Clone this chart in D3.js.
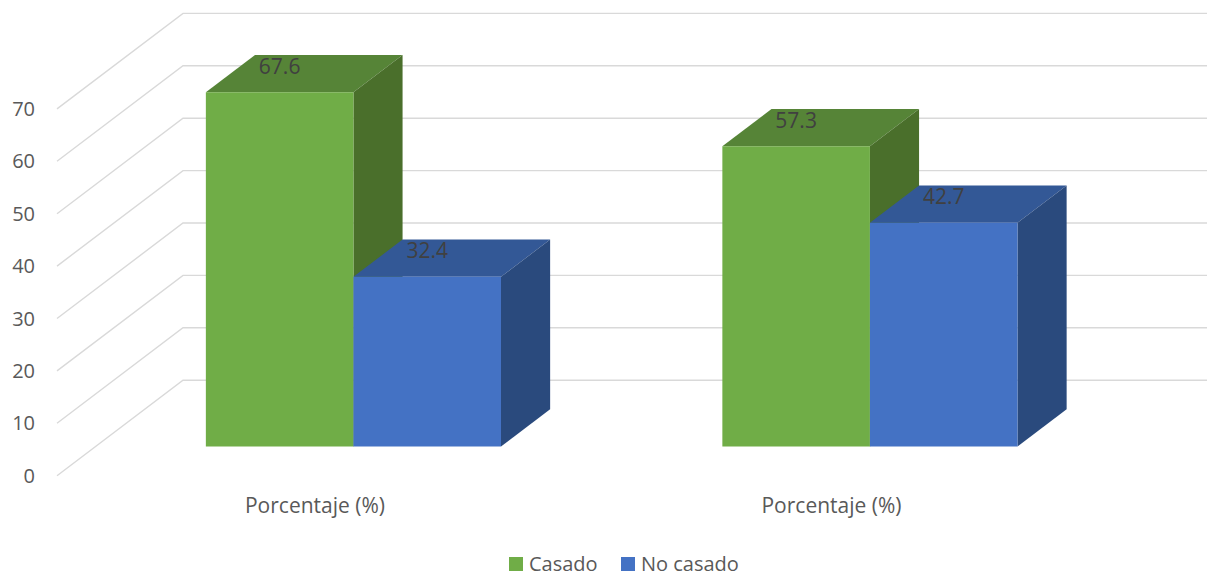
<!DOCTYPE html>
<html>
<head>
<meta charset="utf-8">
<script src="https://cdn.jsdelivr.net/npm/d3@7"></script>
<style>
  html, body { margin: 0; padding: 0; background: #fff; }
  svg { display: block; }
  text { font-family: "Open Sans", "Liberation Sans", sans-serif; }
</style>
</head>
<body>
<svg id="chart" width="1207" height="575"></svg>
<script>
// Data
const categories = ["Porcentaje (%)", "Porcentaje (%)"];
const seriesNames = ["Casado", "No casado"];
const casado = [67.6, 57.3];
const noCasado = [32.4, 42.7];
const yTicks = [0, 10, 20, 30, 40, 50, 60, 70];

const seriesValues = [casado, noCasado];
const seriesColors = [
  { front: "#70ad47", top: "#568437", side: "#4a6f2b" },
  { front: "#4472c4", top: "#335896", side: "#2a4a7d" }
];

const W = 1207, H = 575;
const svg = d3.select("#chart");

// Oblique projection: depth f in [0,1] shifts points right and up
const DX = 126, DY = 95.5;
const depthFront = 0.305, depthBack = 0.695;

const y = d3.scaleLinear().domain([0, 70]).range([475.7, 108.9]);

const x0 = d3.scaleBand()
  .domain(d3.range(categories.length))
  .range([56.75, 1089.75])
  .paddingInner(1.5 / 3.5)
  .paddingOuter(0.75 / 3.5);

const x1 = d3.scaleBand()
  .domain(d3.range(seriesNames.length))
  .range([0, x0.bandwidth()]);

const proj = (px, v, f) => [px + DX * f, y(v) - DY * f];

// Side and back-wall gridlines
const gridG = svg.append("g");
yTicks.forEach(t => {
  const a = proj(57, t, 0), b = proj(57, t, 1);
  gridG.append("path")
    .attr("d", `M${a[0]},${a[1]}L${b[0]},${b[1]}L${W},${b[1]}`)
    .attr("fill", "none")
    .attr("stroke", "#d9d9d9")
    .attr("stroke-width", 1.4);
});

// Y axis tick labels
svg.append("g").selectAll("text")
  .data(yTicks)
  .join("text")
  .attr("x", 35)
  .attr("y", d => y(d))
  .attr("dy", "0.35em")
  .attr("text-anchor", "end")
  .attr("font-size", 20)
  .attr("fill", "#595959")
  .text(d => d);

// 3D columns
const barsG = svg.append("g");
const poly = pts => "M" + pts.map(p => p.join(",")).join("L") + "Z";

categories.forEach((c, ci) => {
  seriesValues.forEach((vals, si) => {
    const v = vals[ci];
    const xl = x0(ci) + x1(si), xr = xl + x1.bandwidth();
    const col = seriesColors[si];
    const g = barsG.append("g");
    // top face
    g.append("path")
      .attr("d", poly([proj(xl, v, depthFront), proj(xr, v, depthFront), proj(xr, v, depthBack), proj(xl, v, depthBack)]))
      .attr("fill", col.top);
    // right side face
    g.append("path")
      .attr("d", poly([proj(xr, 0, depthFront), proj(xr, v, depthFront), proj(xr, v, depthBack), proj(xr, 0, depthBack)]))
      .attr("fill", col.side);
    // front face
    g.append("path")
      .attr("d", poly([proj(xl, 0, depthFront), proj(xr, 0, depthFront), proj(xr, v, depthFront), proj(xl, v, depthFront)]))
      .attr("fill", col.front);
  });
});

// Value labels, centred over each column's front face
const labelsG = svg.append("g");
categories.forEach((c, ci) => {
  seriesValues.forEach((vals, si) => {
    const v = vals[ci];
    const xc = x0(ci) + x1(si) + x1.bandwidth() / 2;
    const p = proj(xc, v, depthFront);
    labelsG.append("text")
      .attr("x", p[0])
      .attr("y", p[1] - 18.5)
      .attr("text-anchor", "middle")
      .attr("font-size", 21)
      .attr("fill", "#404040")
      .text(v.toFixed(1));
  });
});

// Category labels
svg.append("g").selectAll("text")
  .data(categories)
  .join("text")
  .attr("x", (d, i) => x0(i) + x0.bandwidth() / 2)
  .attr("y", 513)
  .attr("text-anchor", "middle")
  .attr("font-size", 21)
  .attr("fill", "#595959")
  .text(d => d);

// Legend
const legend = svg.append("g");
const legendX = [509, 621];
seriesNames.forEach((name, i) => {
  legend.append("rect")
    .attr("x", legendX[i]).attr("y", 557)
    .attr("width", 14).attr("height", 14)
    .attr("fill", seriesColors[i].front);
  legend.append("text")
    .attr("x", legendX[i] + 20).attr("y", 570.5)
    .attr("font-size", 20)
    .attr("fill", "#595959")
    .text(name);
});
</script>
</body>
</html>
